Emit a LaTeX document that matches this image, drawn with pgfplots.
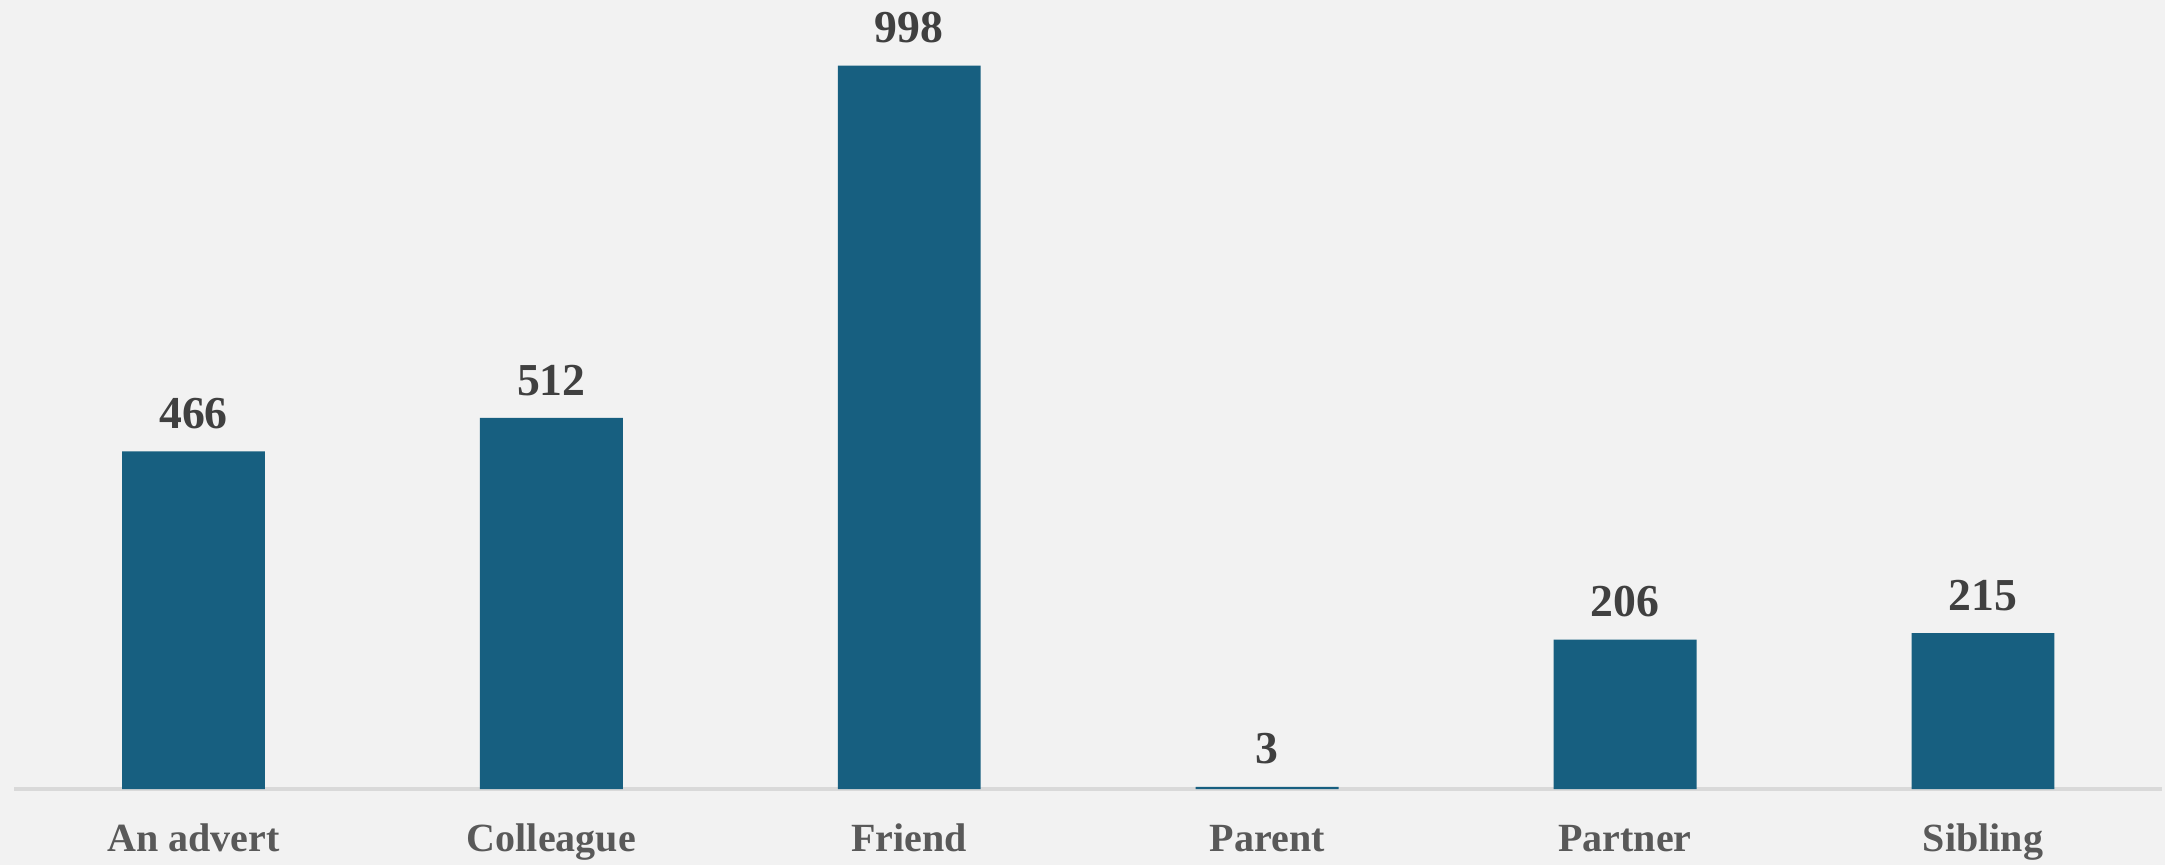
\documentclass[border=0pt]{standalone}
\usepackage{pgfplots}
\pgfplotsset{compat=1.18}
\usepackage{fontspec}
\setmainfont{Liberation Serif}
\definecolor{bg}{HTML}{F2F2F2}
\definecolor{barc}{HTML}{175F80}
\definecolor{axc}{HTML}{D9D9D9}
\definecolor{numc}{HTML}{404040}
\definecolor{labc}{HTML}{595959}
\begin{document}
\begin{tikzpicture}
\fill[bg] (0,0) rectangle (757.75pt,302.75pt);
\begin{axis}[
  at={(5.075pt,26.6pt)}, anchor=south west,
  scale only axis, width=751.6pt, height=276.15pt,
  xmin=-0.5, xmax=5.5, ymin=0, ymax=1088.7,
  ybar, bar width=50pt,
  axis x line*=bottom, axis y line=none,
  x axis line style={axc, line width=1.2pt},
  xtick=data, xticklabels={An advert,Colleague,Friend,Parent,Partner,Sibling},
  major tick length=0pt,
  xticklabel style={anchor=base, yshift=-22pt, inner sep=0pt, font=\fontsize{14}{16}\selectfont\bfseries, text=labc},
  /pgf/number format/assume math mode=true,
  nodes near coords,
  every node near coord/.append style={anchor=base, yshift=8pt, inner sep=0pt, font=\fontsize{16}{18}\selectfont\bfseries, text=numc},
  clip=false,
]
\addplot[fill=barc, draw=none] coordinates {(0,466) (1,512) (2,998) (3,3) (4,206) (5,215)};
\end{axis}
\end{tikzpicture}
\end{document}
